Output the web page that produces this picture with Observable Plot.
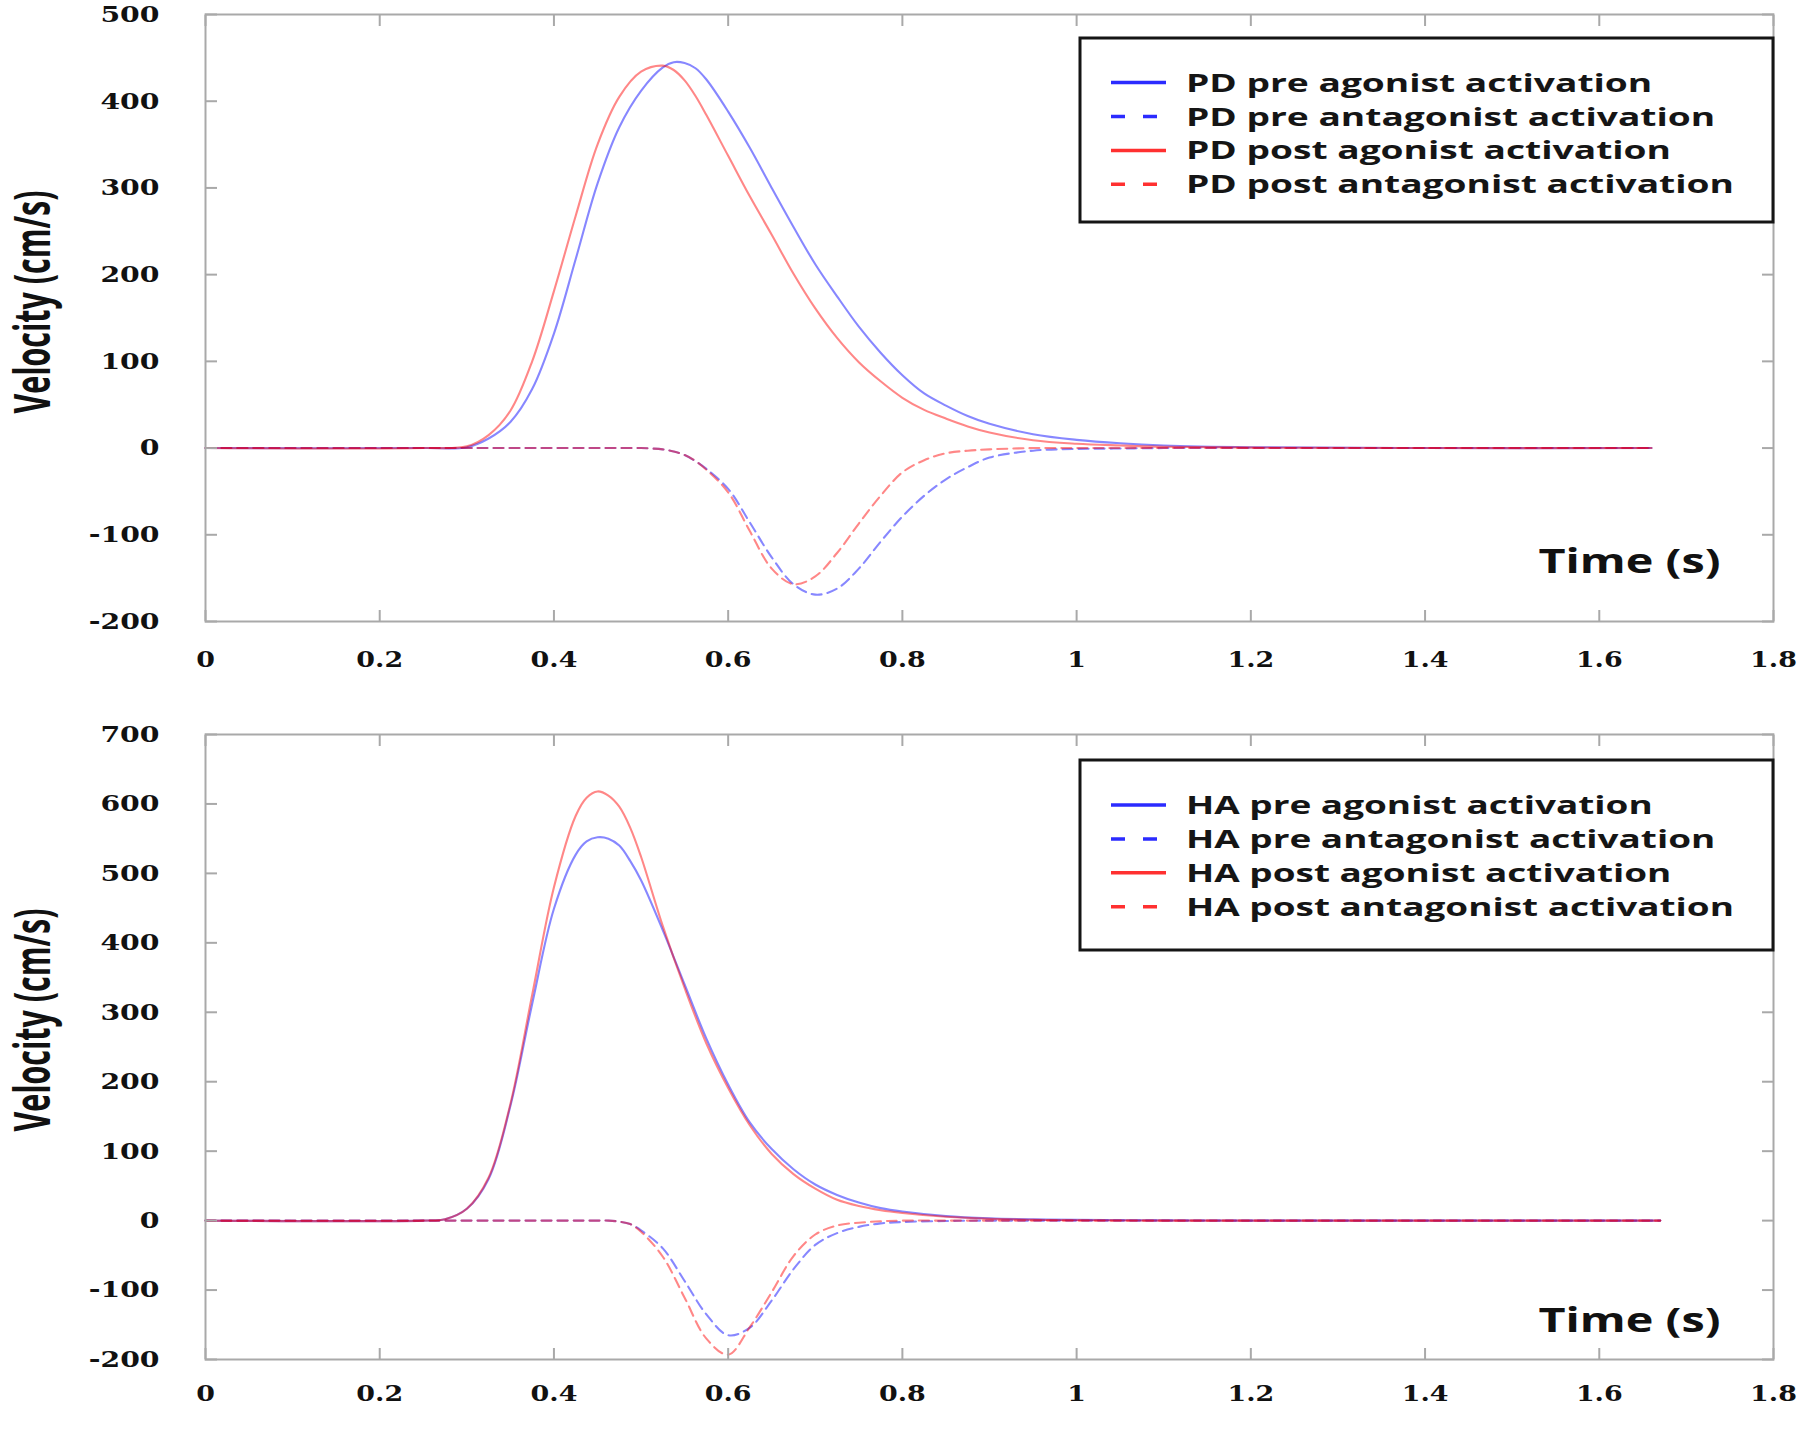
<!DOCTYPE html>
<html>
<head>
<meta charset="utf-8">
<script src="https://cdn.jsdelivr.net/npm/d3@7"></script>
<script src="https://cdn.jsdelivr.net/npm/@observablehq/plot@0.6"></script>
<style>
  html, body { margin: 0; padding: 0; background: #fff; }
  #chart { width: 1808px; }
  #chart svg { display: block; }
</style>
</head>
<body>
<div id="chart"></div>
<script>
// ---------------- DATA ----------------
const xTicks = [0, 0.2, 0.4, 0.6, 0.8, 1, 1.2, 1.4, 1.6, 1.8];
const pdYTicks = [-200, -100, 0, 100, 200, 300, 400, 500];
const haYTicks = [-200, -100, 0, 100, 200, 300, 400, 500, 600, 700];

const xTitle = "Time (s)";
const yTitle = "Velocity (cm/s)";

const pdLabels = ["PD pre agonist activation", "PD pre antagonist activation",
                  "PD post agonist activation", "PD post antagonist activation"];
const haLabels = ["HA pre agonist activation", "HA pre antagonist activation",
                  "HA post agonist activation", "HA post antagonist activation"];

// Top panel (PD)
const pdTime = [0, 0.25, 0.3, 0.325, 0.35, 0.375, 0.4, 0.425, 0.45, 0.475, 0.5, 0.525, 0.5375, 0.55,
                0.5625, 0.575, 0.6, 0.625, 0.65, 0.675, 0.7, 0.725, 0.75, 0.775, 0.8, 0.825, 0.85,
                0.875, 0.9, 0.95, 1.0, 1.05, 1.1, 1.2, 1.4, 1.66];
const pdPreAgonist = [0, 0, 1, 11, 30, 68, 132, 218, 305, 370, 412, 439, 445, 444,
                      438, 425, 388, 346, 300, 255, 212, 175, 140, 110, 84, 63, 49,
                      37, 28, 16, 9.5, 5.5, 3, 1, 0, 0];
const pdPreAntagonist = [0, 0, 0, 0, 0, 0, 0, 0, 0, 0, 0, -1.5, -4, -8,
                         -15, -24, -47, -86, -126, -157, -169, -162, -139, -108, -79, -55, -36,
                         -22, -11, -3, -1, -0.5, 0, 0, 0, 0];
const pdPostAgonist = [0, 0, 2, 15, 43, 100, 181, 268, 350, 405, 434, 441, 436, 424,
                       406, 384, 337, 290, 246, 201, 161, 127, 99, 77, 58, 44, 34,
                       25, 18, 9, 5, 3, 1.5, 0.5, 0, 0];
const pdPostAntagonist = [0, 0, 0, 0, 0, 0, 0, 0, 0, 0, 0, -1.5, -4, -8,
                          -15, -25, -51, -96, -139, -157, -148, -121, -87, -55, -28, -14, -6,
                          -3, -1.5, 0, 0, 0, 0, 0, 0, 0];

// Bottom panel (HA)
const haTime = [0, 0.25, 0.275, 0.3, 0.325, 0.35, 0.375, 0.4, 0.425, 0.4375, 0.45, 0.4625, 0.475,
                0.4875, 0.5, 0.525, 0.55, 0.575, 0.6, 0.625, 0.65, 0.675, 0.7, 0.725, 0.75,
                0.775, 0.8, 0.85, 0.9, 0.95, 1.0, 1.1, 1.2, 1.4, 1.67];
const haPreAgonist = [0, 0, 2, 17, 60, 165, 312, 449, 527, 546, 552, 550, 540,
                      518, 490, 418, 340, 262, 196, 141, 103, 74, 52, 37, 26,
                      18, 13, 6.5, 3.3, 1.8, 1, 0.3, 0, 0, 0];
const haPreAntagonist = [0, 0, 0, 0, 0, 0, 0, 0, 0, 0, 0, 0, -1.5,
                         -5, -14, -40, -87, -135, -165, -154, -115, -70, -35, -18, -9,
                         -4, -2, -0.5, 0, 0, 0, 0, 0, 0, 0];
const haPostAgonist = [0, 0, 2, 17, 62, 168, 325, 480, 583, 609, 618, 612, 596,
                       566, 524, 424, 335, 255, 191, 137, 96, 67, 46, 30, 21,
                       15, 11, 5.5, 2.5, 1.2, 0.6, 0, 0, 0, 0];
const haPostAntagonist = [0, 0, 0, 0, 0, 0, 0, 0, 0, 0, 0, 0, -1.5,
                          -5, -16, -52, -111, -170, -193, -153, -103, -51, -20, -7, -3,
                          -1, 0, 0, 0, 0, 0, 0, 0, 0, 0];

// ---------------- STYLES ----------------
const seriesStyle = [
  {stroke: "#0000ff", dash: null,   legend: "#2b2bff"},
  {stroke: "#0000ff", dash: "10,6", legend: "#2b2bff"},
  {stroke: "#ff0000", dash: null,   legend: "#ff3030"},
  {stroke: "#ff0000", dash: "10,6", legend: "#ff3030"}
];
const W = 1808, ML = 205, MR = 35;
const frameGrey = "#a9a9a9";
const tickFont = {fontFamily: "DejaVu Serif", fontWeight: "bold", fontSize: 23, fill: "#111"};

const panels = [
  {time: pdTime, series: [pdPreAgonist, pdPreAntagonist, pdPostAgonist, pdPostAntagonist],
   labels: pdLabels, yDomain: [-200, 500], yTicks: pdYTicks,
   height: 715, marginTop: 14, marginBottom: 94, xPad: 29,
   timeDy: -49, titleDy: -16, legendTop: 24, legendH: 184, legendFirst: 44.6},
  {time: haTime, series: [haPreAgonist, haPreAntagonist, haPostAgonist, haPostAntagonist],
   labels: haLabels, yDomain: [-200, 700], yTicks: haYTicks,
   height: 716, marginTop: 19, marginBottom: 72, xPad: 25,
   timeDy: -28, titleDy: -27, legendTop: 26, legendH: 190, legendFirst: 45}
];

function makePanel(cfg) {
  return Plot.plot({
    width: W, height: cfg.height,
    marginLeft: ML, marginRight: MR, marginTop: cfg.marginTop, marginBottom: cfg.marginBottom,
    style: {background: "white", overflow: "visible"},
    x: {domain: [0, 1.8], label: null},
    y: {domain: cfg.yDomain, label: null},
    marks: [
      ...cfg.series.map((vals, i) => Plot.lineY(vals, {
        x: cfg.time, curve: "catmull-rom",
        stroke: seriesStyle[i].stroke, strokeOpacity: 0.47, strokeWidth: 2.1,
        strokeDasharray: seriesStyle[i].dash
      })),
      Plot.frame({stroke: frameGrey, strokeWidth: 2}),
      Plot.axisX(xTicks, {anchor: "bottom", tickSize: 0, tickPadding: cfg.xPad,
        tickFormat: d => String(d), label: null, ...tickFont}),
      Plot.axisX(xTicks, {anchor: "bottom", tickSize: -11, fill: "none", stroke: frameGrey, strokeWidth: 2, label: null}),
      Plot.axisX(xTicks, {anchor: "top", tickSize: -11, fill: "none", stroke: frameGrey, strokeWidth: 2, label: null}),
      Plot.axisY(cfg.yTicks, {anchor: "left", tickSize: 0, tickPadding: 46,
        tickFormat: d => String(d), label: null, ...tickFont}),
      Plot.axisY(cfg.yTicks, {anchor: "left", tickSize: -12, fill: "none", stroke: frameGrey, strokeWidth: 2, label: null}),
      Plot.axisY(cfg.yTicks, {anchor: "right", tickSize: -12, fill: "none", stroke: frameGrey, strokeWidth: 2, label: null}),
      Plot.text([xTitle], {text: d => d, frameAnchor: "bottom-right", textAnchor: "end",
        dx: -53, dy: cfg.timeDy, fontFamily: "Open Sans", fontWeight: "bold", fontSize: 34, fill: "#111"}),
      Plot.text([yTitle], {text: d => d, frameAnchor: "left", rotate: -90, textAnchor: "middle",
        dx: -172, dy: cfg.titleDy, fontFamily: "Open Sans", fontWeight: "bold", fontSize: 50, fill: "#111"})
    ]
  });
}

function stretch(el, factor) {
  const w = el.getComputedTextLength();
  if (w > 0) {
    el.setAttribute("textLength", (w * factor).toFixed(1));
    el.setAttribute("lengthAdjust", "spacingAndGlyphs");
  }
}
function fitTo(el, target) {
  el.setAttribute("textLength", target);
  el.setAttribute("lengthAdjust", "spacingAndGlyphs");
}

function addLegend(svg, cfg) {
  const right = W - MR, boxW = 693, left = right - boxW;
  const top = cfg.marginTop + cfg.legendTop;
  const g = d3.select(svg).append("g").attr("aria-label", "legend");
  g.append("rect").attr("x", left).attr("y", top).attr("width", boxW).attr("height", cfg.legendH)
    .attr("fill", "white").attr("stroke", "#151515").attr("stroke-width", 3);
  const texts = [];
  cfg.labels.forEach((lab, i) => {
    const y = top + cfg.legendFirst + i * 33.9;
    g.append("line").attr("x1", left + 31).attr("x2", left + 86).attr("y1", y).attr("y2", y)
      .attr("stroke", seriesStyle[i].legend).attr("stroke-width", 3.5)
      .attr("stroke-dasharray", seriesStyle[i].dash ? "14,18" : null);
    const t = g.append("text").attr("x", left + 106).attr("y", y + 9)
      .attr("text-anchor", "start")
      .attr("font-family", "Open Sans").attr("font-weight", "bold").attr("font-size", 25)
      .attr("fill", "#151515").text(lab);
    texts.push(t.node());
  });
  const longest = d3.max(texts, t => t.getComputedTextLength());
  const factor = 548 / longest;
  texts.forEach(t => stretch(t, factor));
}

const container = document.getElementById("chart");
panels.forEach(cfg => {
  const svg = makePanel(cfg);
  container.append(svg);
  const sel = d3.select(svg);
  sel.selectAll('g[aria-label="x-axis tick label"] text').each(function() { stretch(this, 1.17); });
  sel.selectAll('g[aria-label="y-axis tick label"] text').each(function() { stretch(this, 1.23); });
  sel.selectAll("text").filter(function() { return this.textContent === xTitle; })
    .each(function() { fitTo(this, 182); });
  sel.selectAll("text").filter(function() { return this.textContent === yTitle; })
    .each(function() { fitTo(this, 223); });
  addLegend(svg, cfg);
});
</script>
</body>
</html>
